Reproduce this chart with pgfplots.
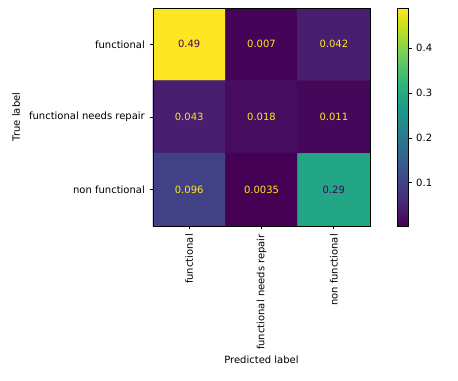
\documentclass[border=0pt]{standalone}
\usepackage{pgfplots}
\pgfplotsset{compat=1.18}
\usepackage{fontspec}
\setmainfont{DejaVu Sans}
\definecolor{vyellow}{HTML}{FDE725}
\definecolor{vdark}{HTML}{440154}
\pgfplotsset{/pgf/number format/assume math mode=true}
\begin{document}
\begin{tikzpicture}
\useasboundingbox (0,0) rectangle (343.5pt,285pt);
\begin{axis}[
  at={(114.75pt,115.5pt)}, anchor=south west,
  scale only axis, width=162.75pt, height=163.5pt,
  font=\fontsize{7.5}{9}\selectfont,
  axis on top,
  xmin=-0.5, xmax=2.5, ymin=-0.5, ymax=2.5,
  y dir=reverse,
  xtick={0,1,2}, ytick={0,1,2},
  xticklabels={functional, functional needs repair, non functional},
  yticklabels={functional, functional needs repair, non functional},
  xticklabel style={rotate=90, anchor=east},
  tick pos=left, tick align=outside,
  major tick length=2.6pt,
  every tick/.style={line width=0.6pt, black},
  axis line style={line width=0.6pt},
  xlabel={Predicted label}, ylabel={True label},
  xlabel style={yshift=2pt},
  colormap/viridis,
  point meta min=0.0035, point meta max=0.49,
  colorbar,
  colorbar style={
    at={(parent axis.north east)}, anchor=north west, xshift=12pt,
    width=8pt,
    ytick={0.1,0.2,0.3,0.4},
    yticklabel style={/pgf/number format/.cd, fixed, precision=1, fixed zerofill},
    tick align=outside, ytick pos=right,
    major tick length=2.6pt,
    every tick/.style={line width=0.6pt, black},
    axis line style={line width=0.6pt},
    font=\fontsize{7.5}{9}\selectfont,
  },
]
\addplot[matrix plot*, mesh/cols=3, point meta=explicit] table[meta=c] {
x y c
0 0 0.49
1 0 0.007
2 0 0.042
0 1 0.043
1 1 0.018
2 1 0.011
0 2 0.096
1 2 0.0035
2 2 0.29
};
\addplot[only marks, mark=*, mark size=0pt, mark options={draw=none, fill=none},
  point meta=explicit symbolic,
  nodes near coords, nodes near coords align={center},
  every node near coord/.append style={text=vyellow, font=\fontsize{7.5}{9}\selectfont}]
  table[meta=t] {
x y t
1 0 0.007
2 0 0.042
0 1 0.043
1 1 0.018
2 1 0.011
0 2 0.096
1 2 0.0035
};
\addplot[only marks, mark=*, mark size=0pt, mark options={draw=none, fill=none},
  point meta=explicit symbolic,
  nodes near coords, nodes near coords align={center},
  every node near coord/.append style={text=vdark, font=\fontsize{7.5}{9}\selectfont}]
  table[meta=t] {
x y t
0 0 0.49
2 2 0.29
};
\end{axis}
\end{tikzpicture}
\end{document}
